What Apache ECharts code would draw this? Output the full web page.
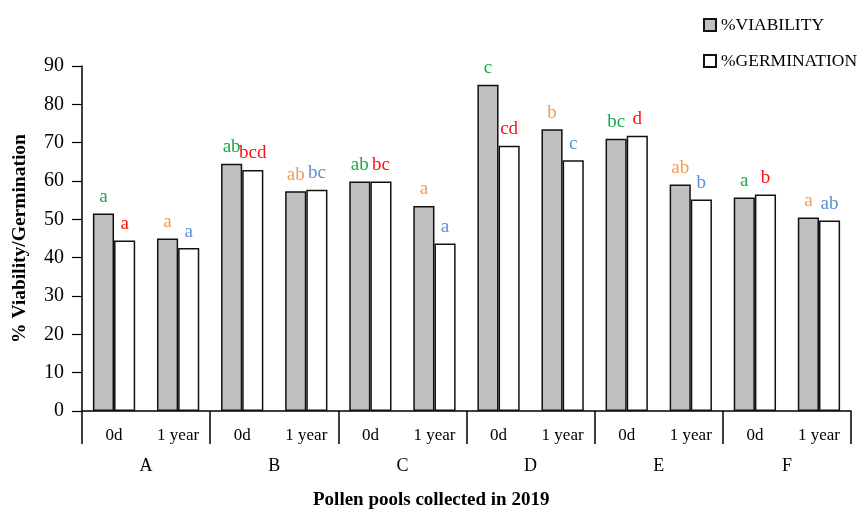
<!DOCTYPE html>
<html>
<head>
<meta charset="utf-8">
<script src="https://cdn.jsdelivr.net/npm/echarts@6/dist/echarts.min.js"></script>
<style>
  html, body { margin: 0; padding: 0; background: #fff; }
  #chart { width: 865px; height: 510px; }
</style>
</head>
<body>
<div id="chart"></div>
<script>
const pools = ['A', 'B', 'C', 'D', 'E', 'F'];
const ages = ['0d', '1 year'];
const viability = [51.5, 45, 64.5, 57.3, 59.9, 53.5, 85.1, 73.5, 71, 59.1, 55.7, 50.5];
const germination = [44.5, 42.5, 62.9, 57.7, 59.9, 43.7, 69.2, 65.4, 71.8, 55.2, 56.5, 49.7];
const viabilityLetters = ['a', 'a', 'ab', 'ab', 'ab', 'a', 'c', 'b', 'bc', 'ab', 'a', 'a'];
const germinationLetters = ['a', 'a', 'bcd', 'bc', 'bc', 'a', 'cd', 'c', 'd', 'b', 'b', 'ab'];

const serif = "'Liberation Serif', 'Times New Roman', serif";
const subCats = [];
pools.forEach(() => ages.forEach(a => subCats.push(a)));

// letter colours: 0d / 1 year
const viabColors = ['#19a94a', '#f79a4a'];
const germColors = ['#ff1010', '#5b8fd9'];

const makeData = (vals, letters, colors) =>
  vals.map((v, i) => ({
    value: v,
    label: { formatter: letters[i], color: colors[i % 2] }
  }));

const myChart = echarts.init(document.getElementById('chart'));

const barLabel = {
  show: true,
  position: 'top',
  distance: 7,
  fontFamily: serif,
  fontSize: 19
};

const option = {
  animation: false,
  textStyle: { fontFamily: serif, color: '#000' },
  title: {
    text: 'Pollen pools collected in 2019',
    left: 313,
    top: 491,
    padding: 0,
    textStyle: { fontFamily: serif, fontSize: 19, fontWeight: 'bold', color: '#000' }
  },
  legend: {
    orient: 'vertical',
    left: 698,
    top: 11,
    itemWidth: 12,
    itemHeight: 12,
    itemGap: 18,
    icon: 'rect',
    textStyle: { fontFamily: serif, fontSize: 17.5, color: '#000' },
    data: ['%VIABILITY', '%GERMINATION']
  },
  grid: { left: 82, right: 14, top: 66, bottom: 99, outerBoundsMode: 'none' },
  xAxis: [
    {
      type: 'category',
      data: subCats,
      axisLine: { lineStyle: { color: '#000', width: 1.5 } },
      axisTick: { show: false },
      axisLabel: { margin: 16, fontFamily: serif, fontSize: 17, color: '#000', interval: 0 }
    },
    {
      type: 'category',
      data: pools,
      position: 'bottom',
      axisLine: { show: false },
      axisTick: { show: true, length: 33, lineStyle: { color: '#000', width: 1.5 } },
      axisLabel: { margin: 46, fontFamily: serif, fontSize: 18, color: '#000' }
    }
  ],
  yAxis: {
    type: 'value',
    min: 0,
    max: 90,
    interval: 10,
    axisLine: { show: true, lineStyle: { color: '#000', width: 1.5 } },
    axisTick: { show: true, length: 10, lineStyle: { color: '#000', width: 1.2 } },
    splitLine: { show: false },
    axisLabel: { margin: 18, fontFamily: serif, fontSize: 20, color: '#000' },
    name: '% Viability/Germination',
    nameLocation: 'middle',
    nameRotate: 90,
    nameGap: 52,
    nameTextStyle: { fontFamily: serif, fontSize: 19.5, fontWeight: 'bold', color: '#000' }
  },
  series: [
    {
      name: '%VIABILITY',
      type: 'bar',
      xAxisIndex: 0,
      barGap: '0%',
      barCategoryGap: '34%',
      itemStyle: { color: '#c0c0c0', borderColor: '#111', borderWidth: 1.5 },
      label: barLabel,
      data: makeData(viability, viabilityLetters, viabColors)
    },
    {
      name: '%GERMINATION',
      type: 'bar',
      xAxisIndex: 0,
      itemStyle: { color: '#ffffff', borderColor: '#111', borderWidth: 1.5 },
      label: barLabel,
      data: makeData(germination, germinationLetters, germColors)
    }
  ]
};

myChart.setOption(option);
</script>
</body>
</html>
